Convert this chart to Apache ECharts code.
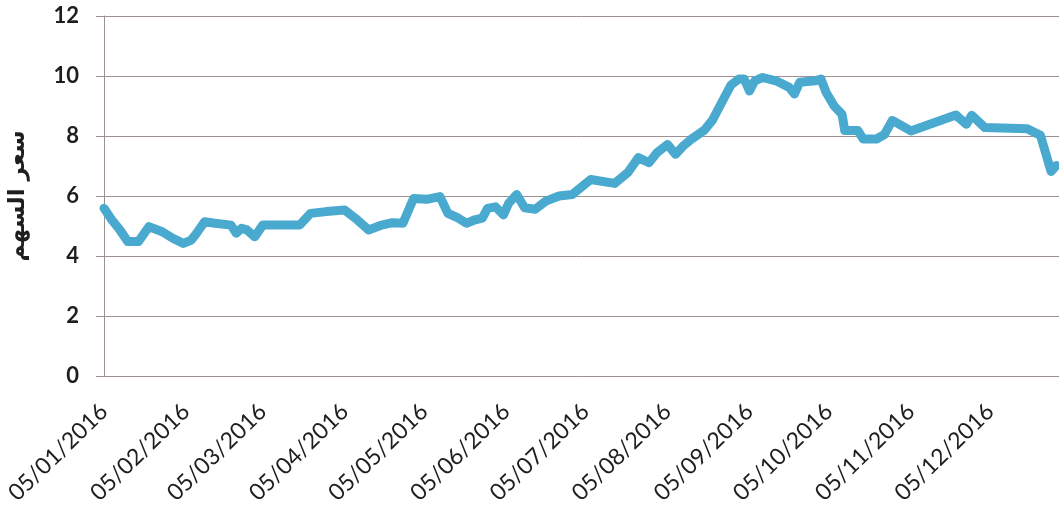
<!DOCTYPE html>
<html>
<head>
<meta charset="utf-8">
<script src="https://cdn.jsdelivr.net/npm/echarts@6/dist/echarts.min.js"></script>
<style>
html,body{margin:0;padding:0;background:#ffffff;}
#chart{width:1059px;height:510px;}
</style>
</head>
<body>
<div id="chart"></div>
<script>
const dates = [
'2016-01-05','2016-01-08','2016-01-11','2016-01-14','2016-01-18','2016-01-22','2016-01-27','2016-01-31',
'2016-02-04','2016-02-07','2016-02-09','2016-02-12','2016-02-16','2016-02-22','2016-02-24','2016-02-26','2016-02-28',
'2016-03-02','2016-03-05','2016-03-09','2016-03-19','2016-03-23','2016-03-29',
'2016-04-05','2016-04-09','2016-04-14','2016-04-19','2016-04-23','2016-04-27',
'2016-05-01','2016-05-06','2016-05-11','2016-05-14','2016-05-18','2016-05-21','2016-05-24','2016-05-27','2016-05-29',
'2016-06-01','2016-06-04','2016-06-06','2016-06-09','2016-06-12','2016-06-16','2016-06-20','2016-06-25','2016-06-30',
'2016-07-07','2016-07-16','2016-07-21','2016-07-25','2016-07-29',
'2016-08-01','2016-08-05','2016-08-08','2016-08-11','2016-08-14','2016-08-19','2016-08-22','2016-08-26','2016-08-29',
'2016-09-01','2016-09-03','2016-09-05','2016-09-07','2016-09-10','2016-09-15','2016-09-20','2016-09-22','2016-09-24','2016-09-30',
'2016-10-02','2016-10-04','2016-10-07','2016-10-10','2016-10-11','2016-10-16','2016-10-18','2016-10-23','2016-10-26','2016-10-29',
'2016-11-05','2016-11-22','2016-11-26','2016-11-28',
'2016-12-03','2016-12-19','2016-12-24','2016-12-28','2016-12-30'
];
const prices = [
5.59,5.2,4.87,4.48,4.48,4.98,4.81,4.59,
4.42,4.53,4.76,5.14,5.09,5.03,4.76,4.92,4.87,
4.64,5.03,5.03,5.03,5.42,5.48,
5.53,5.26,4.87,5.03,5.11,5.09,
5.92,5.89,5.98,5.42,5.26,5.09,5.2,5.26,5.59,
5.64,5.37,5.76,6.05,5.61,5.56,5.83,6.0,6.05,
6.55,6.42,6.78,7.28,7.11,
7.44,7.72,7.39,7.67,7.89,8.2,8.53,9.2,9.7,
9.9,9.9,9.5,9.84,9.95,9.84,9.62,9.4,9.79,9.84,
9.9,9.45,9.0,8.72,8.18,8.18,7.9,7.9,8.05,8.52,
8.17,8.7,8.39,8.69,
8.28,8.24,8.02,6.82,7.02
];
const tickDates = ['2016-01-05','2016-02-05','2016-03-05','2016-04-05','2016-05-05','2016-06-05',
'2016-07-05','2016-08-05','2016-09-05','2016-10-05','2016-11-05','2016-12-05'];
const yAxisTitle = 'سعر السهم';

function ts(s){const p=s.split('-');return Date.UTC(+p[0],+p[1]-1,+p[2]);}
function pad(n){return (n<10?'0':'')+n;}

const chart = echarts.init(document.getElementById('chart'), null, {renderer:'canvas'});
chart.setOption({
  backgroundColor:'#ffffff',
  animation:false,
  grid:{left:104,right:0,top:16,bottom:134,containLabel:false,outerBoundsMode:'none'},
  xAxis:{
    type:'value',
    min:ts('2016-01-05'),
    max:ts('2016-12-31'),
    axisLine:{show:true,onZero:false,lineStyle:{color:'#9d9092',width:1}},
    axisTick:{show:false},
    splitLine:{show:false},
    axisLabel:{
      customValues:tickDates.map(ts),
      rotate:44,
      margin:32,
      fontFamily:'Lato',
      fontSize:23,
      color:'#1e1e1e',
      hideOverlap:false,
      formatter:function(v){const d=new Date(v);return pad(d.getUTCDate())+'/'+pad(d.getUTCMonth()+1)+'/'+d.getUTCFullYear();}
    }
  },
  yAxis:{
    type:'value',
    min:0,max:12,interval:2,
    name:yAxisTitle,
    nameLocation:'middle',
    nameGap:74,
    nameTextStyle:{fontFamily:'DejaVu Sans',fontWeight:'bold',fontSize:23,color:'#1e1e1e'},
    axisLine:{show:true,lineStyle:{color:'#9d9092',width:1}},
    axisTick:{show:true,length:8,lineStyle:{color:'#9d9092',width:1}},
    splitLine:{show:true,lineStyle:{color:'#9d9092',width:1}},
    axisLabel:{margin:25,fontFamily:'Lato',fontWeight:'bold',fontSize:22,color:'#1e1e1e'}
  },
  series:[{
    type:'line',
    data:dates.map((d,i)=>[ts(d),prices[i]]),
    showSymbol:false,
    lineStyle:{color:'#4aa9cf',width:9,cap:'round',join:'round'},
    itemStyle:{color:'#4aa9cf'}
  }]
});
</script>
</body>
</html>
